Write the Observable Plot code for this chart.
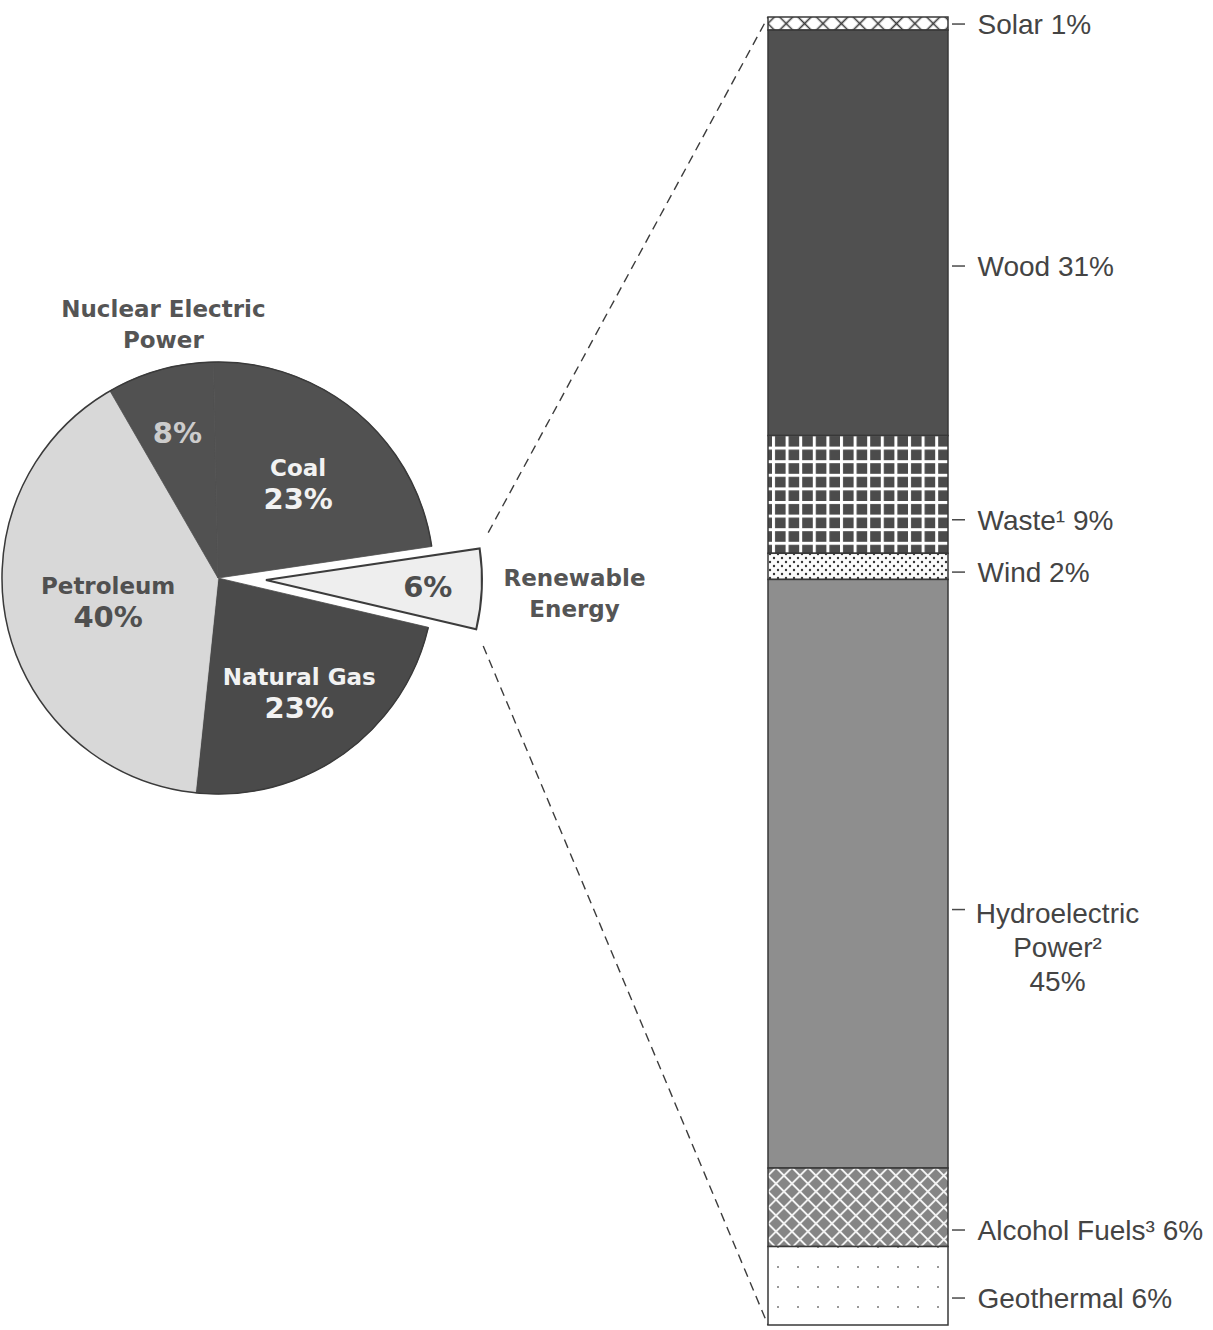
<!DOCTYPE html>
<html>
<head>
<meta charset="utf-8">
<script src="https://cdn.jsdelivr.net/npm/d3@7"></script>
<script src="https://cdn.jsdelivr.net/npm/@observablehq/plot@0.6"></script>
<style>
  body { margin: 0; background: #fff; }
  #chart svg { display: block; }
</style>
</head>
<body>
<div id="chart"></div>
<script>
// Total energy consumption by source (percent), listed clockwise from the pulled-out slice
const energySources = ["Renewable\nEnergy", "Natural Gas", "Petroleum", "Nuclear Electric\nPower", "Coal"];
const energyShares = [6, 23, 40, 8, 23];

// Renewable energy consumption by source (percent of renewables), top to bottom
const renewableSources = ["Solar", "Wood", "Waste¹", "Wind", "Hydroelectric\nPower²", "Alcohol Fuels³", "Geothermal"];
const renewableShares = [1, 31, 9, 2, 45, 6, 6];

// ---- layout ----
const W = 1213, H = 1330;
const barLeft = 768, barRight = 948, barTop = 17, barBottom = 1325;
const pieCenter = [218, 578], pieRadius = 216, explode = 48;
const pieStart = (90 - 8.4) * Math.PI / 180;   // first slice starts just above 3 o'clock
const barCategory = "Renewable Energy";

// slice styles and label placement (fraction of radius)
const pieStyle = {
  "Renewable\nEnergy":       {fill: "#eeeeee", text: "#4d4d4d", r: 0.75, nameR: 1.43, nameColor: "#555"},
  "Natural Gas":             {fill: "#4a4a4a", text: "#f2f2f2", r: 0.65},
  "Petroleum":               {fill: "#d8d8d8", text: "#505050", r: 0.52},
  "Nuclear Electric\nPower": {fill: "#515151", text: "#cccccc", r: 0.70, nameR: 1.2, nameShift: 0.06, nameColor: "#555"},
  "Coal":                    {fill: "#515151", text: "#f2f2f2", r: 0.575}
};

// bar segment fills (patterns defined below)
const segmentFill = {
  "Solar": "url(#pat-solar)",
  "Wood": "#505050",
  "Waste¹": "url(#pat-waste)",
  "Wind": "url(#pat-wind)",
  "Hydroelectric\nPower²": "#8e8e8e",
  "Alcohol Fuels³": "url(#pat-alcohol)",
  "Geothermal": "url(#pat-geo)"
};
// label nudges along the bar, in percentage points
const labelNudge = {"Solar": 0, "Wood": 2.5, "Waste¹": 1.9, "Wind": 0.4, "Hydroelectric\nPower²": 2.7, "Alcohol Fuels³": 1.7, "Geothermal": 0.9};

// ---- patterns ----
const pxPerPoint = (barBottom - barTop) / 100;
const defs = d3.select(document.body).insert("svg", ":first-child")
  .attr("width", 0).attr("height", 0).style("position", "absolute").append("defs");

function crosshatch(id, size, bg, line, width, ox, oy) {
  const p = defs.append("pattern").attr("id", id).attr("patternUnits", "userSpaceOnUse")
    .attr("width", size).attr("height", size)
    .attr("patternTransform", `translate(${ox},${oy}) rotate(45)`);
  p.append("rect").attr("width", size).attr("height", size).attr("fill", bg);
  p.append("path").attr("d", `M${size / 2},0V${size}M0,${size / 2}H${size}`)
    .attr("stroke", line).attr("stroke-width", width);
}
crosshatch("pat-solar", 13, "#ffffff", "#3a3a3a", 1.6, barLeft + 9, barTop + 0.5 * pxPerPoint);
crosshatch("pat-alcohol", 11.3, "#858585", "#f4f4f4", 1.8, barLeft, barTop);

{ // white grid over dark squares
  const s = 13.6;
  const p = defs.append("pattern").attr("id", "pat-waste").attr("patternUnits", "userSpaceOnUse")
    .attr("width", s).attr("height", s).attr("x", barLeft + 4).attr("y", barTop + 8);
  p.append("rect").attr("width", s).attr("height", s).attr("fill", "#4b4b4b");
  p.append("rect").attr("width", 3).attr("height", s).attr("fill", "#fff");
  p.append("rect").attr("width", s).attr("height", 3).attr("fill", "#fff");
}
{ // stipple
  const s = 8;
  const p = defs.append("pattern").attr("id", "pat-wind").attr("patternUnits", "userSpaceOnUse")
    .attr("width", s).attr("height", s);
  p.append("rect").attr("width", s).attr("height", s).attr("fill", "#fbfbfb");
  p.append("circle").attr("cx", 2).attr("cy", 2).attr("r", 1.2).attr("fill", "#333");
  p.append("circle").attr("cx", 6).attr("cy", 6).attr("r", 1.2).attr("fill", "#333");
}
{ // sparse dots
  const s = 20;
  const p = defs.append("pattern").attr("id", "pat-geo").attr("patternUnits", "userSpaceOnUse")
    .attr("width", s).attr("height", s).attr("x", barLeft).attr("y", barTop);
  p.append("rect").attr("width", s).attr("height", s).attr("fill", "#fff");
  p.append("circle").attr("cx", 10).attr("cy", 10).attr("r", 1).attr("fill", "#777");
}

// ---- data tables ----
const energy = energySources.map((name, i) => ({name, value: energyShares[i]}));
const ends = d3.cumsum(renewableShares);
const renewables = renewableSources.map((name, i) => ({
  name, value: renewableShares[i], mid: ends[i] - renewableShares[i] / 2
}));
const labelText = d => d.name + (d.name.includes("\n") ? "\n" : " ") + d.value + "%";

// ---- pie of total consumption, with the renewable slice pulled out ----
function energyPie(index, scales) {
  const g = d3.create("svg:g");
  const [cx, cy] = pieCenter;
  const polar = (a, r) => [Math.sin(a) * r, -Math.cos(a) * r];
  const arcs = d3.pie().sort(null).value(d => d.value)
    .startAngle(pieStart).endAngle(pieStart + 2 * Math.PI)(energy);
  const arc = d3.arc().innerRadius(0).outerRadius(pieRadius);
  const pulled = arcs[0];

  arcs.forEach(a => {
    const mid = (a.startAngle + a.endAngle) / 2;
    const off = a === pulled ? polar(mid, explode) : [0, 0];
    const fill = pieStyle[a.data.name].fill;
    a.mid = mid;
    a.origin = [cx + off[0], cy + off[1]];
    g.append("path")
      .attr("d", arc(a))
      .attr("transform", `translate(${a.origin})`)
      .attr("fill", fill)
      .attr("stroke", a === pulled ? "#3c3c3c" : fill)
      .attr("stroke-width", a === pulled ? 2 : 0.8);
  });

  // rim of the remaining pie
  g.append("path")
    .attr("d", d3.arc().innerRadius(pieRadius).outerRadius(pieRadius)
      ({startAngle: pulled.endAngle, endAngle: pulled.startAngle + 2 * Math.PI}))
    .attr("transform", `translate(${cx},${cy})`)
    .attr("fill", "none").attr("stroke", "#3a3a3a").attr("stroke-width", 1.5);

  // dashed connectors from the pulled slice to the bar
  const bx = scales.x ? scales.x(barCategory) : barLeft;
  const yTop = scales.y ? scales.y(0) : barTop;
  const yBot = scales.y ? scales.y(100) : barBottom;
  [[pulled.startAngle, yTop], [pulled.endAngle, yBot]].forEach(([a, ty]) => {
    const p = polar(a, pieRadius);
    const sx = pulled.origin[0] + p[0], sy = pulled.origin[1] + p[1];
    const len = Math.hypot(bx - sx, ty - sy);
    const ux = (bx - sx) / len, uy = (ty - sy) / len;
    g.append("line")
      .attr("x1", sx + ux * 18).attr("y1", sy + uy * 18)
      .attr("x2", bx).attr("y2", ty)
      .attr("stroke", "#3c3c3c").attr("stroke-width", 1.4)
      .attr("stroke-dasharray", "9 6");
  });

  // labels
  const font = "'DejaVu Sans', Verdana, sans-serif";
  function block(x, y, lines, color) {
    // lines: [{text, size}] stacked around (x, y)
    const gap = 31;
    lines.forEach((ln, i) => {
      const c = y + (i - (lines.length - 1) / 2) * gap;
      g.append("text")
        .attr("x", x).attr("y", c + 0.36 * ln.size)
        .attr("text-anchor", "middle")
        .attr("font-family", font).attr("font-weight", "bold")
        .attr("font-size", ln.size).attr("fill", color)
        .text(ln.text);
    });
  }
  arcs.forEach(a => {
    const st = pieStyle[a.data.name];
    const [ox, oy] = a.origin;
    const p = polar(a.mid, st.r * pieRadius);
    const value = {text: a.data.value + "%", size: 29};
    if (st.nameR) {
      block(ox + p[0], oy + p[1], [value], st.text);
      const q = polar(a.mid + (st.nameShift || 0), st.nameR * pieRadius);
      block(ox + q[0], oy + q[1], a.data.name.split("\n").map(t => ({text: t, size: 23})), st.nameColor);
    } else {
      block(ox + p[0], oy + p[1], [{text: a.data.name, size: 23}, value], st.text);
    }
  });
  return g.node();
}

// ---- chart ----
const labelFont = "'Liberation Sans', Arial, sans-serif";
const chart = Plot.plot({
  width: W,
  height: H,
  margin: 0,
  style: {background: "#fff", overflow: "visible"},
  x: {type: "band", domain: [barCategory], range: [barLeft, barRight], padding: 0, axis: null},
  y: {domain: [0, 100], range: [barTop, barBottom], axis: null},
  color: {type: "identity"},
  marks: [
    energyPie,
    Plot.barY(renewables, Plot.stackY({
      x: () => barCategory,
      y: "value",
      fill: d => segmentFill[d.name],
      stroke: "#383838",
      strokeWidth: 1.5
    })),
    Plot.tickY(renewables, {
      x: () => barCategory,
      y: d => d.mid + labelNudge[d.name],
      stroke: "#4a4a4a",
      strokeWidth: 1.5,
      insetLeft: barRight - barLeft + 4,
      insetRight: -17
    }),
    // text on a band scale is placed at the band's centre
    Plot.text(renewables.filter(d => !d.name.includes("\n")), {
      x: () => barCategory,
      y: d => d.mid + labelNudge[d.name],
      text: labelText,
      textAnchor: "start",
      lineAnchor: "top",
      dx: 119,
      dy: -10,
      fontSize: 28,
      fontFamily: labelFont,
      fill: "#444"
    }),
    Plot.text(renewables.filter(d => d.name.includes("\n")), {
      x: () => barCategory,
      y: d => d.mid + labelNudge[d.name],
      text: labelText,
      textAnchor: "middle",
      lineAnchor: "top",
      lineHeight: 1.2,
      dx: 199,
      dy: -10,
      fontSize: 28,
      fontFamily: labelFont,
      fill: "#444"
    })
  ]
});
document.getElementById("chart").appendChild(chart);
</script>
</body>
</html>
